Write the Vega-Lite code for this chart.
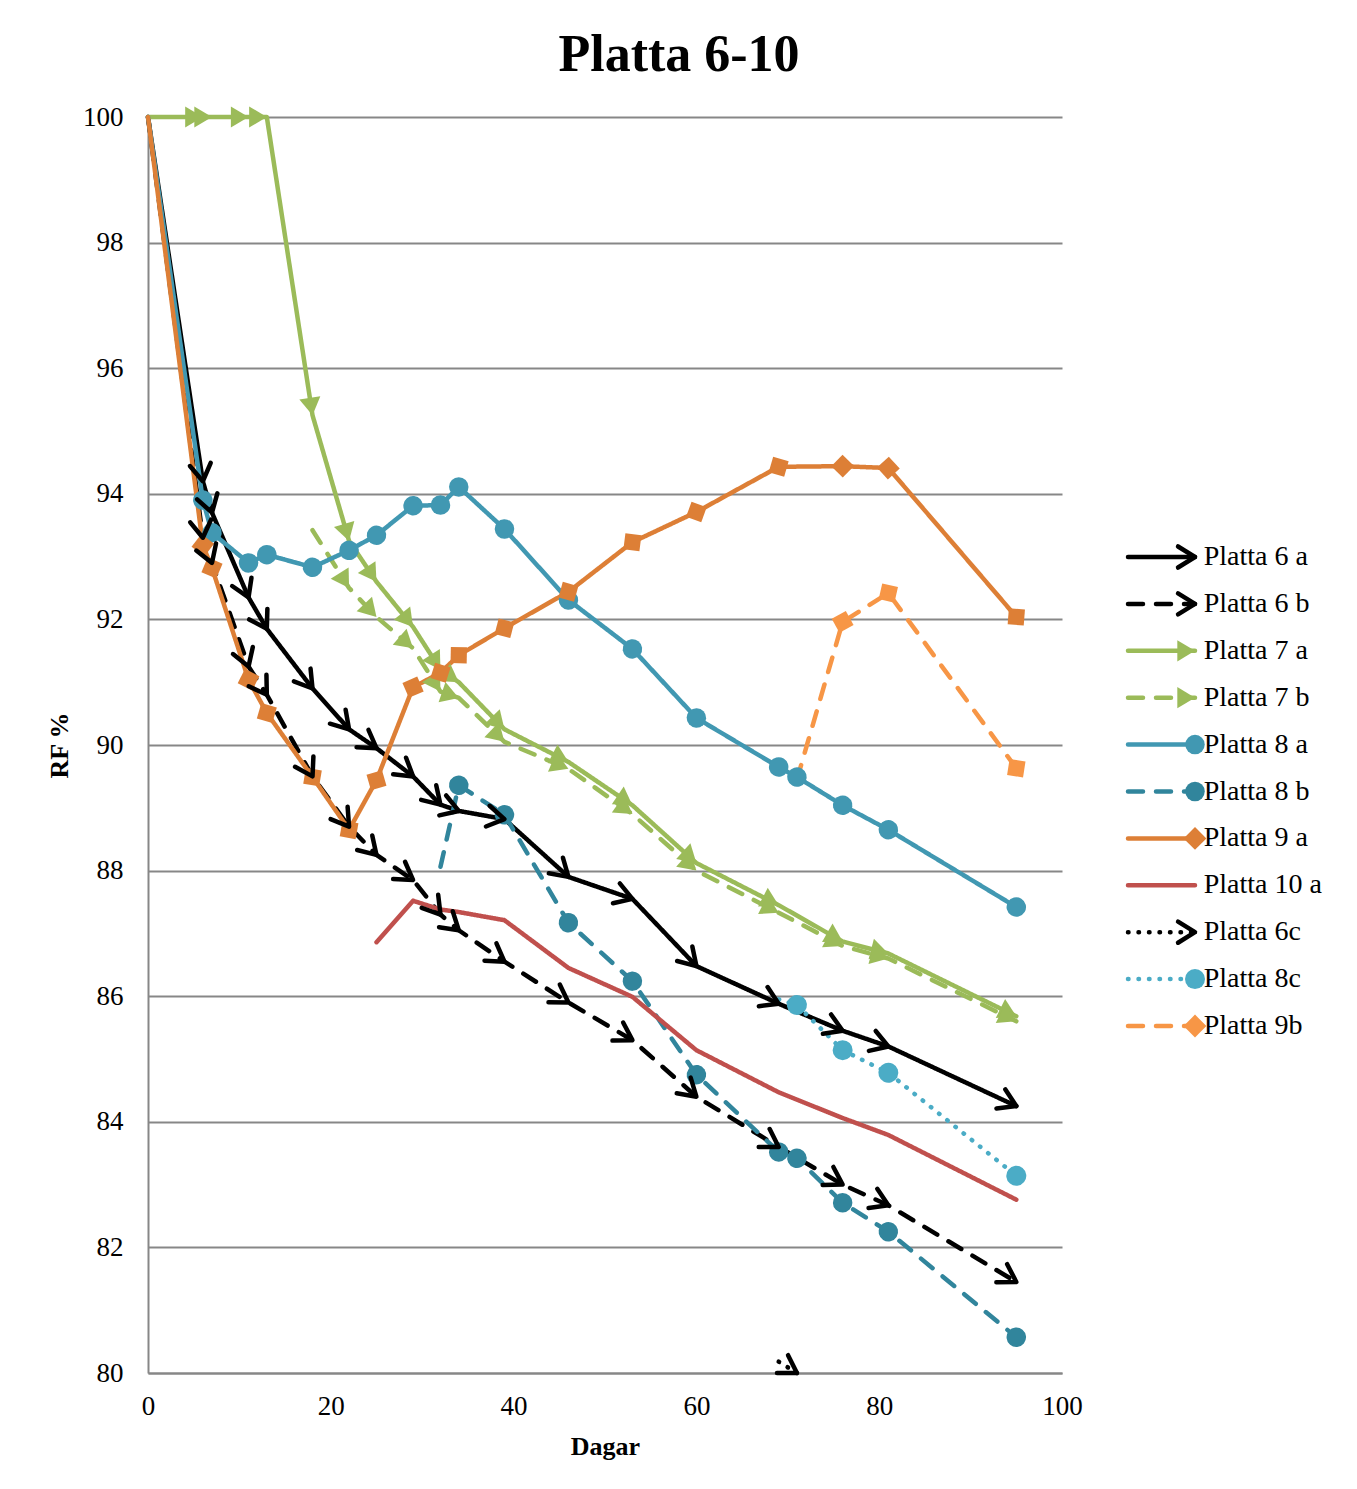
{
  "$schema": "https://vega.github.io/schema/vega-lite/v6.json",
  "autosize": {"type": "none"},
  "padding": {"left": 148, "top": 117, "right": 295, "bottom": 116},
  "width": 914,
  "height": 1256,
  "background": "white",
  "config": {
    "view": {"stroke": null},
    "font": "Liberation Serif",
    "title": {"font": "Liberation Serif", "fontSize": 52, "fontWeight": "bold", "color": "#000"}
  },
  "title": {"text": "Platta 6-10", "anchor": "middle", "frame": "group", "dx": 74, "offset": 21},
  "datasets": {
    "main": [
      {"series": "Platta 6 a", "day": 0, "rf": 100}, {"series": "Platta 6 a", "day": 6, "rf": 94.2}, {"series": "Platta 6 a", "day": 7, "rf": 93.7}, {"series": "Platta 6 a", "day": 11, "rf": 92.35}, {"series": "Platta 6 a", "day": 13, "rf": 91.85}, {"series": "Platta 6 a", "day": 18, "rf": 90.9}, {"series": "Platta 6 a", "day": 22, "rf": 90.25}, {"series": "Platta 6 a", "day": 25, "rf": 89.95}, {"series": "Platta 6 a", "day": 29, "rf": 89.5}, {"series": "Platta 6 a", "day": 32, "rf": 89.05}, {"series": "Platta 6 a", "day": 34, "rf": 88.95}, {"series": "Platta 6 a", "day": 39, "rf": 88.82}, {"series": "Platta 6 a", "day": 46, "rf": 87.9}, {"series": "Platta 6 a", "day": 53, "rf": 87.55}, {"series": "Platta 6 a", "day": 60, "rf": 86.48}, {"series": "Platta 6 a", "day": 69, "rf": 85.88}, {"series": "Platta 6 a", "day": 76, "rf": 85.45}, {"series": "Platta 6 a", "day": 81, "rf": 85.2}, {"series": "Platta 6 a", "day": 95, "rf": 84.25},
      {"series": "Platta 6 b", "day": 0, "rf": 100}, {"series": "Platta 6 b", "day": 6, "rf": 93.3}, {"series": "Platta 6 b", "day": 7, "rf": 92.9}, {"series": "Platta 6 b", "day": 11, "rf": 91.25}, {"series": "Platta 6 b", "day": 13, "rf": 90.8}, {"series": "Platta 6 b", "day": 18, "rf": 89.5}, {"series": "Platta 6 b", "day": 22, "rf": 88.7}, {"series": "Platta 6 b", "day": 25, "rf": 88.25}, {"series": "Platta 6 b", "day": 29, "rf": 87.85}, {"series": "Platta 6 b", "day": 32, "rf": 87.3}, {"series": "Platta 6 b", "day": 34, "rf": 87.05}, {"series": "Platta 6 b", "day": 39, "rf": 86.55}, {"series": "Platta 6 b", "day": 46, "rf": 85.9}, {"series": "Platta 6 b", "day": 53, "rf": 85.3}, {"series": "Platta 6 b", "day": 60, "rf": 84.4}, {"series": "Platta 6 b", "day": 69, "rf": 83.6}, {"series": "Platta 6 b", "day": 76, "rf": 83.0}, {"series": "Platta 6 b", "day": 81, "rf": 82.67}, {"series": "Platta 6 b", "day": 95, "rf": 81.45},
      {"series": "Platta 7 a", "day": 0, "rf": 100}, {"series": "Platta 7 a", "day": 6, "rf": 100}, {"series": "Platta 7 a", "day": 7, "rf": 100}, {"series": "Platta 7 a", "day": 11, "rf": 100}, {"series": "Platta 7 a", "day": 13, "rf": 100}, {"series": "Platta 7 a", "day": 18, "rf": 95.25}, {"series": "Platta 7 a", "day": 22, "rf": 93.25}, {"series": "Platta 7 a", "day": 25, "rf": 92.6}, {"series": "Platta 7 a", "day": 29, "rf": 91.88}, {"series": "Platta 7 a", "day": 32, "rf": 91.2}, {"series": "Platta 7 a", "day": 34, "rf": 91.0}, {"series": "Platta 7 a", "day": 39, "rf": 90.25}, {"series": "Platta 7 a", "day": 46, "rf": 89.73}, {"series": "Platta 7 a", "day": 53, "rf": 89.04}, {"series": "Platta 7 a", "day": 60, "rf": 88.12}, {"series": "Platta 7 a", "day": 69, "rf": 87.45}, {"series": "Platta 7 a", "day": 76, "rf": 86.87}, {"series": "Platta 7 a", "day": 81, "rf": 86.68}, {"series": "Platta 7 a", "day": 95, "rf": 85.68},
      {"series": "Platta 7 b", "day": 18, "rf": 93.42}, {"series": "Platta 7 b", "day": 22, "rf": 92.5}, {"series": "Platta 7 b", "day": 25, "rf": 92.04}, {"series": "Platta 7 b", "day": 29, "rf": 91.54}, {"series": "Platta 7 b", "day": 32, "rf": 90.85}, {"series": "Platta 7 b", "day": 34, "rf": 90.75}, {"series": "Platta 7 b", "day": 39, "rf": 90.05}, {"series": "Platta 7 b", "day": 46, "rf": 89.62}, {"series": "Platta 7 b", "day": 53, "rf": 88.9}, {"series": "Platta 7 b", "day": 60, "rf": 88.0}, {"series": "Platta 7 b", "day": 69, "rf": 87.33}, {"series": "Platta 7 b", "day": 76, "rf": 86.8}, {"series": "Platta 7 b", "day": 81, "rf": 86.6}, {"series": "Platta 7 b", "day": 95, "rf": 85.6},
      {"series": "Platta 8 a", "day": 0, "rf": 100}, {"series": "Platta 8 a", "day": 6, "rf": 93.9}, {"series": "Platta 8 a", "day": 7, "rf": 93.38}, {"series": "Platta 8 a", "day": 11, "rf": 92.9}, {"series": "Platta 8 a", "day": 13, "rf": 93.03}, {"series": "Platta 8 a", "day": 18, "rf": 92.83}, {"series": "Platta 8 a", "day": 22, "rf": 93.1}, {"series": "Platta 8 a", "day": 25, "rf": 93.34}, {"series": "Platta 8 a", "day": 29, "rf": 93.81}, {"series": "Platta 8 a", "day": 32, "rf": 93.82}, {"series": "Platta 8 a", "day": 34, "rf": 94.11}, {"series": "Platta 8 a", "day": 39, "rf": 93.44}, {"series": "Platta 8 a", "day": 46, "rf": 92.31}, {"series": "Platta 8 a", "day": 53, "rf": 91.53}, {"series": "Platta 8 a", "day": 60, "rf": 90.43}, {"series": "Platta 8 a", "day": 69, "rf": 89.65}, {"series": "Platta 8 a", "day": 71, "rf": 89.49}, {"series": "Platta 8 a", "day": 76, "rf": 89.04}, {"series": "Platta 8 a", "day": 81, "rf": 88.65}, {"series": "Platta 8 a", "day": 95, "rf": 87.42},
      {"series": "Platta 8 b", "day": 32, "rf": 88.06}, {"series": "Platta 8 b", "day": 34, "rf": 89.36}, {"series": "Platta 8 b", "day": 39, "rf": 88.89}, {"series": "Platta 8 b", "day": 46, "rf": 87.17}, {"series": "Platta 8 b", "day": 53, "rf": 86.24}, {"series": "Platta 8 b", "day": 60, "rf": 84.75}, {"series": "Platta 8 b", "day": 69, "rf": 83.52}, {"series": "Platta 8 b", "day": 71, "rf": 83.42}, {"series": "Platta 8 b", "day": 76, "rf": 82.71}, {"series": "Platta 8 b", "day": 81, "rf": 82.25}, {"series": "Platta 8 b", "day": 95, "rf": 80.57},
      {"series": "Platta 9 a", "day": 0, "rf": 100}, {"series": "Platta 9 a", "day": 6, "rf": 93.18}, {"series": "Platta 9 a", "day": 7, "rf": 92.82}, {"series": "Platta 9 a", "day": 11, "rf": 91.04}, {"series": "Platta 9 a", "day": 13, "rf": 90.51}, {"series": "Platta 9 a", "day": 18, "rf": 89.49}, {"series": "Platta 9 a", "day": 22, "rf": 88.65}, {"series": "Platta 9 a", "day": 25, "rf": 89.44}, {"series": "Platta 9 a", "day": 29, "rf": 90.92}, {"series": "Platta 9 a", "day": 32, "rf": 91.15}, {"series": "Platta 9 a", "day": 34, "rf": 91.43}, {"series": "Platta 9 a", "day": 39, "rf": 91.86}, {"series": "Platta 9 a", "day": 46, "rf": 92.44}, {"series": "Platta 9 a", "day": 53, "rf": 93.23}, {"series": "Platta 9 a", "day": 60, "rf": 93.71}, {"series": "Platta 9 a", "day": 69, "rf": 94.43}, {"series": "Platta 9 a", "day": 76, "rf": 94.44}, {"series": "Platta 9 a", "day": 81, "rf": 94.41}, {"series": "Platta 9 a", "day": 95, "rf": 92.04},
      {"series": "Platta 10 a", "day": 25, "rf": 86.86}, {"series": "Platta 10 a", "day": 29, "rf": 87.52}, {"series": "Platta 10 a", "day": 32, "rf": 87.38}, {"series": "Platta 10 a", "day": 34, "rf": 87.34}, {"series": "Platta 10 a", "day": 39, "rf": 87.21}, {"series": "Platta 10 a", "day": 46, "rf": 86.45}, {"series": "Platta 10 a", "day": 53, "rf": 85.99}, {"series": "Platta 10 a", "day": 60, "rf": 85.14}, {"series": "Platta 10 a", "day": 69, "rf": 84.47}, {"series": "Platta 10 a", "day": 76, "rf": 84.06}, {"series": "Platta 10 a", "day": 81, "rf": 83.79}, {"series": "Platta 10 a", "day": 95, "rf": 82.76},
      {"series": "Platta 6c", "day": 69, "rf": 80.18}, {"series": "Platta 6c", "day": 71, "rf": 80.0},
      {"series": "Platta 8c", "day": 69, "rf": 85.95}, {"series": "Platta 8c", "day": 71, "rf": 85.86}, {"series": "Platta 8c", "day": 76, "rf": 85.14}, {"series": "Platta 8c", "day": 81, "rf": 84.78}, {"series": "Platta 8c", "day": 95, "rf": 83.14},
      {"series": "Platta 9b", "day": 71, "rf": 89.45}, {"series": "Platta 9b", "day": 76, "rf": 91.96}, {"series": "Platta 9b", "day": 81, "rf": 92.42}, {"series": "Platta 9b", "day": 95, "rf": 89.63}
    ],
    "legend": [
      {"series": "Platta 6 a"}, {"series": "Platta 6 b"}, {"series": "Platta 7 a"}, {"series": "Platta 7 b"}, {"series": "Platta 8 a"}, {"series": "Platta 8 b"}, {"series": "Platta 9 a"}, {"series": "Platta 10 a"}, {"series": "Platta 6c"}, {"series": "Platta 8c"}, {"series": "Platta 9b"}
    ]
  },
  "resolve": {"scale": {"x": "independent", "y": "independent"}},
  "layer": [
    {
      "data": {"name": "main"},
      "encoding": {
        "x": {"field": "day", "type": "quantitative", "scale": {"domain": [0, 100], "nice": false},
          "axis": {"values": [0, 20, 40, 60, 80, 100], "grid": false, "ticks": false, "labelFlush": false, "labelFont": "Liberation Serif", "labelFontSize": 27, "labelColor": "#000", "labelPadding": 20, "domainColor": "#878787", "domainWidth": 2, "title": "Dagar", "titleFont": "Liberation Serif", "titleFontSize": 26, "titleFontWeight": "bold", "titleColor": "#000", "titlePadding": 14}},
        "y": {"field": "rf", "type": "quantitative", "scale": {"domain": [80, 100], "nice": false, "zero": false},
          "axis": {"values": [80, 82, 84, 86, 88, 90, 92, 94, 96, 98, 100], "grid": true, "gridColor": "#878787", "gridWidth": 2, "ticks": false, "labelFlush": false, "labelFont": "Liberation Serif", "labelFontSize": 27, "labelColor": "#000", "labelPadding": 25, "domainColor": "#878787", "domainWidth": 2, "title": "RF %", "titleFont": "Liberation Serif", "titleFontSize": 26, "titleFontWeight": "bold", "titleColor": "#000", "titlePadding": 10}},
        "color": {"field": "series", "type": "nominal", "legend": null,
          "scale": {"domain": ["Platta 6 a", "Platta 6 b", "Platta 7 a", "Platta 7 b", "Platta 8 a", "Platta 8 b", "Platta 9 a", "Platta 10 a", "Platta 6c", "Platta 8c", "Platta 9b"],
            "range": ["#000000", "#000000", "#9BBB59", "#9BBB59", "#4198B2", "#31859C", "#DD7F36", "#C0504D", "#000000", "#4BACC6", "#F79646"]}}
      },
      "layer": [
        {
          "mark": {"type": "line", "strokeWidth": 4.5, "strokeCap": "round", "strokeJoin": "round"},
          "encoding": {
            "strokeDash": {"field": "series", "type": "nominal", "legend": null,
              "scale": {"domain": ["Platta 6 a", "Platta 6 b", "Platta 7 a", "Platta 7 b", "Platta 8 a", "Platta 8 b", "Platta 9 a", "Platta 10 a", "Platta 6c", "Platta 8c", "Platta 9b"],
                "range": [[1, 0], [15, 13], [1, 0], [15, 13], [1, 0], [15, 13], [1, 0], [1, 0], [0.5, 10], [0.5, 10], [15, 13]]}}
          }
        },
        {
          "transform": [
            {"window": [{"op": "lag", "field": "day", "as": "pday"}, {"op": "lag", "field": "rf", "as": "prf"}], "groupby": ["series"], "sort": [{"field": "day", "order": "ascending"}]},
            {"filter": "isValid(datum.pday) && datum.series != 'Platta 10 a'"},
            {"calculate": "atan2((datum.prf - datum.rf) * 1256 / 20, (datum.day - datum.pday) * 914 / 100) * 180 / PI", "as": "ang"}
          ],
          "encoding": {
            "shape": {"field": "series", "type": "nominal", "legend": null,
              "scale": {"type": "ordinal", "domain": ["Platta 6 a", "Platta 6 b", "Platta 7 a", "Platta 7 b", "Platta 8 a", "Platta 8 b", "Platta 9 a", "Platta 10 a", "Platta 6c", "Platta 8c", "Platta 9b"],
                "range": ["M -1 -0.62 L 0 0 L -1 0.62", "M -1 -0.62 L 0 0 L -1 0.62", "M 0 0 L -1 -0.6 L -1 0.6 Z", "M 0 0 L -1 -0.6 L -1 0.6 Z", "circle", "circle", "diamond", "circle", "M -1 -0.62 L 0 0 L -1 0.62", "circle", "diamond"]}},
            "size": {"field": "series", "type": "nominal", "legend": null,
              "scale": {"type": "ordinal", "domain": ["Platta 6 a", "Platta 6 b", "Platta 7 a", "Platta 7 b", "Platta 8 a", "Platta 8 b", "Platta 9 a", "Platta 10 a", "Platta 6c", "Platta 8c", "Platta 9b"],
                "range": [1150, 1150, 1250, 1250, 380, 380, 520, 10, 1150, 400, 520]}},
            "angle": {"field": "ang", "type": "quantitative", "scale": null}
          },
          "layer": [
            {
              "transform": [{"filter": "indexof(['Platta 6 a','Platta 6 b','Platta 6c'], datum.series) < 0"}],
              "mark": {"type": "point", "filled": true, "opacity": 1}
            },
            {
              "transform": [{"filter": "indexof(['Platta 6 a','Platta 6 b','Platta 6c'], datum.series) >= 0"}],
              "mark": {"type": "point", "filled": false, "opacity": 1, "strokeWidth": 4.5, "strokeCap": "round", "strokeJoin": "round"}
            }
          ]
        }
      ]
    },
    {
      "data": {"name": "legend"},
      "encoding": {
        "y": {"field": "series", "type": "nominal", "axis": null,
          "scale": {"type": "point", "padding": 0, "domain": ["Platta 6 a", "Platta 6 b", "Platta 7 a", "Platta 7 b", "Platta 8 a", "Platta 8 b", "Platta 9 a", "Platta 10 a", "Platta 6c", "Platta 8c", "Platta 9b"], "range": [440, 909]}},
        "color": {"field": "series", "type": "nominal", "legend": null}
      },
      "layer": [
        {
          "mark": {"type": "rule", "strokeWidth": 4.5, "strokeCap": "round"},
          "encoding": {
            "x": {"datum": 0, "type": "quantitative", "axis": null, "scale": {"domain": [0, 1], "range": [980, 1047]}},
            "x2": {"datum": 1},
            "strokeDash": {"field": "series", "type": "nominal", "legend": null}
          }
        },
        {
          "transform": [{"filter": "datum.series != 'Platta 10 a'"}],
          "encoding": {
            "x": {"datum": 1, "type": "quantitative"},
            "shape": {"field": "series", "type": "nominal", "legend": null,
              "scale": {"type": "ordinal", "domain": ["Platta 6 a", "Platta 6 b", "Platta 7 a", "Platta 7 b", "Platta 8 a", "Platta 8 b", "Platta 9 a", "Platta 10 a", "Platta 6c", "Platta 8c", "Platta 9b"],
                "range": ["M -1 -0.62 L 0 0 L -1 0.62", "M -1 -0.62 L 0 0 L -1 0.62", "M 0 0 L -1 -0.6 L -1 0.6 Z", "M 0 0 L -1 -0.6 L -1 0.6 Z", "circle", "circle", "diamond", "circle", "M -1 -0.62 L 0 0 L -1 0.62", "circle", "diamond"]}},
            "size": {"field": "series", "type": "nominal", "legend": null,
              "scale": {"type": "ordinal", "domain": ["Platta 6 a", "Platta 6 b", "Platta 7 a", "Platta 7 b", "Platta 8 a", "Platta 8 b", "Platta 9 a", "Platta 10 a", "Platta 6c", "Platta 8c", "Platta 9b"],
                "range": [1150, 1150, 1250, 1250, 380, 380, 520, 10, 1150, 400, 520]}}
          },
          "layer": [
            {
              "transform": [{"filter": "indexof(['Platta 6 a','Platta 6 b','Platta 6c'], datum.series) < 0"}],
              "mark": {"type": "point", "filled": true, "opacity": 1}
            },
            {
              "transform": [{"filter": "indexof(['Platta 6 a','Platta 6 b','Platta 6c'], datum.series) >= 0"}],
              "mark": {"type": "point", "filled": false, "opacity": 1, "strokeWidth": 4.5, "strokeCap": "round", "strokeJoin": "round"}
            }
          ]
        },
        {
          "mark": {"type": "text", "align": "left", "baseline": "middle", "font": "Liberation Serif", "fontSize": 28, "color": "#000"},
          "encoding": {
            "x": {"datum": 1.13, "type": "quantitative"},
            "text": {"field": "series"},
            "color": {"value": "#000"}
          }
        }
      ]
    }
  ]
}
